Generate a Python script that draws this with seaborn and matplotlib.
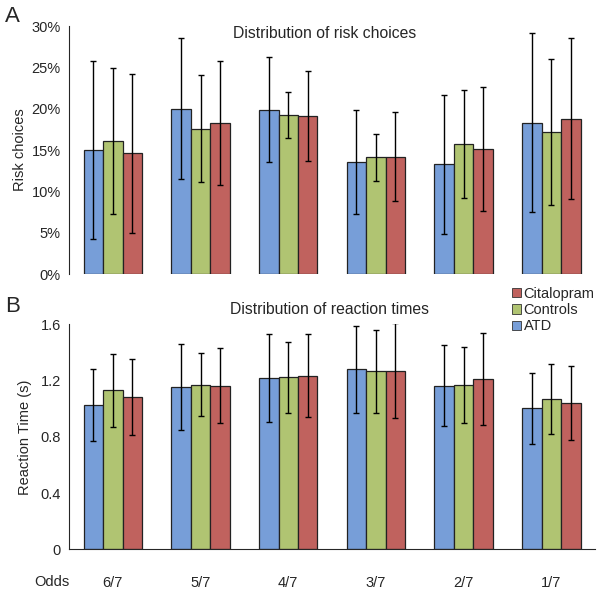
import numpy as np
import pandas as pd
import matplotlib
matplotlib.use("Agg")
import matplotlib.pyplot as plt
import seaborn as sns
from matplotlib.ticker import FuncFormatter, FixedLocator

odds = ["6/7", "5/7", "4/7", "3/7", "2/7", "1/7"]
groups = ["ATD", "Controls", "Citalopram"]
colors = ["#779ED8", "#B0C472", "#C0625E"]

# risk choices (%) and SD
risk_atd = [15.0, 20.0, 19.9, 13.5, 13.3, 18.3]
risk_ctl = [16.1, 17.6, 19.2, 14.1, 15.7, 17.2]
risk_cit = [14.6, 18.3, 19.1, 14.2, 15.1, 18.8]
risk_sd_atd = [10.8, 8.5, 6.3, 6.3, 8.4, 10.8]
risk_sd_ctl = [8.8, 6.5, 2.8, 2.8, 6.5, 8.8]
risk_sd_cit = [9.6, 7.5, 5.4, 5.4, 7.5, 9.7]

# reaction times (s) and SD
rt_atd = [1.026, 1.152, 1.216, 1.280, 1.164, 1.003]
rt_ctl = [1.131, 1.171, 1.223, 1.266, 1.169, 1.071]
rt_cit = [1.083, 1.164, 1.233, 1.270, 1.211, 1.040]
rt_sd_atd = [0.256, 0.305, 0.313, 0.310, 0.287, 0.251]
rt_sd_ctl = [0.260, 0.226, 0.252, 0.294, 0.273, 0.250]
rt_sd_cit = [0.268, 0.265, 0.295, 0.338, 0.325, 0.265]


def long_df(a, b, c):
    rows = []
    for g, vals in zip(groups, [a, b, c]):
        for o, v in zip(odds, vals):
            rows.append({"odds": o, "group": g, "value": v})
    return pd.DataFrame(rows)


def draw(ax, df, sds):
    sns.barplot(data=df, x="odds", y="value", hue="group", order=odds,
                hue_order=groups, palette=colors, width=0.667, gap=0,
                errorbar=None, edgecolor="#222222", linewidth=0.9,
                saturation=1, legend=False, ax=ax)
    for cont, sd in zip(ax.containers, sds):
        for bar, e in zip(cont, sd):
            ax.errorbar(bar.get_x() + bar.get_width() / 2, bar.get_height(),
                        yerr=e, fmt="none", ecolor="black", elinewidth=1.0,
                        capsize=2.2, capthick=1.0)
    ax.set_xlim(-0.5, 5.5)
    ax.set_xlabel("")
    sns.despine(ax=ax)
    ax.tick_params(axis="y", direction="out", length=4, width=0.8, labelsize=10.5, pad=2)


sns.set_style("white")
plt.rcParams["font.family"] = ["Liberation Sans", "DejaVu Sans"]

fig = plt.figure(figsize=(6.0, 5.94), dpi=100)
ax1 = fig.add_axes([0.115, 0.5387, 0.877, 0.4175])
ax2 = fig.add_axes([0.115, 0.0752, 0.877, 0.3788])

# --- panel A ---
draw(ax1, long_df(risk_atd, risk_ctl, risk_cit), [risk_sd_atd, risk_sd_ctl, risk_sd_cit])
ax1.set_ylim(0, 30)
ax1.set_yticks(range(0, 31, 5))
ax1.yaxis.set_major_formatter(FuncFormatter(lambda v, p: f"{int(v)}%"))
ax1.set_ylabel("Risk choices", fontsize=10.5, labelpad=3)
ax1.spines["bottom"].set_visible(False)
ax1.set_xticks([])

# --- panel B ---
draw(ax2, long_df(rt_atd, rt_ctl, rt_cit), [rt_sd_atd, rt_sd_ctl, rt_sd_cit])
ax2.set_ylim(0, 1.6)
ax2.set_yticks([0, 0.4, 0.8, 1.2, 1.6])
ax2.set_yticklabels(["0", "0.4", "0.8", "1.2", "1.6"])
ax2.set_ylabel("Reaction Time (s)", fontsize=10.5, labelpad=6)
ax2.set_xticks(range(len(odds)))
ax2.set_xticklabels(odds, fontsize=10.5)
ax2.tick_params(axis="x", which="major", length=0, pad=19)
ax2.xaxis.set_minor_locator(FixedLocator(np.arange(0.5, 6, 1.0)))
ax2.tick_params(axis="x", which="minor", direction="out", length=4, width=0.8)
ax2.spines["bottom"].set_linewidth(0.8)
for s in ["left"]:
    ax1.spines[s].set_linewidth(0.8)
    ax2.spines[s].set_linewidth(0.8)

# titles, panel letters, odds label
fig.text(325 / 600, 1 - 33 / 594, "Distribution of risk choices", ha="center", va="center", fontsize=11.3)
fig.text(329 / 600, 1 - 310 / 594, "Distribution of reaction times", ha="center", va="center", fontsize=11.3)
fig.text(5 / 600, 1 - 16 / 594, "A", ha="left", va="center", fontsize=16)
fig.text(5 / 600, 1 - 306 / 594, "B", ha="left", va="center", fontsize=16)
fig.text(52 / 600, 1 - 582 / 594, "Odds", ha="center", va="center", fontsize=10.5)

# legend (reversed order, small square markers)
handles = [plt.Rectangle((0, 0), 1, 1, facecolor=c, edgecolor="#333333", linewidth=0.6)
           for c in colors]
fig.legend(handles[::-1], groups[::-1], loc="upper left",
           bbox_to_anchor=(512 / 600, 1 - 287 / 594), frameon=False,
           fontsize=10.5, handlelength=0.6, handleheight=0.6, handletextpad=0.2,
           labelspacing=0.15, borderpad=0, borderaxespad=0)

fig.savefig("out.png", dpi=100)
